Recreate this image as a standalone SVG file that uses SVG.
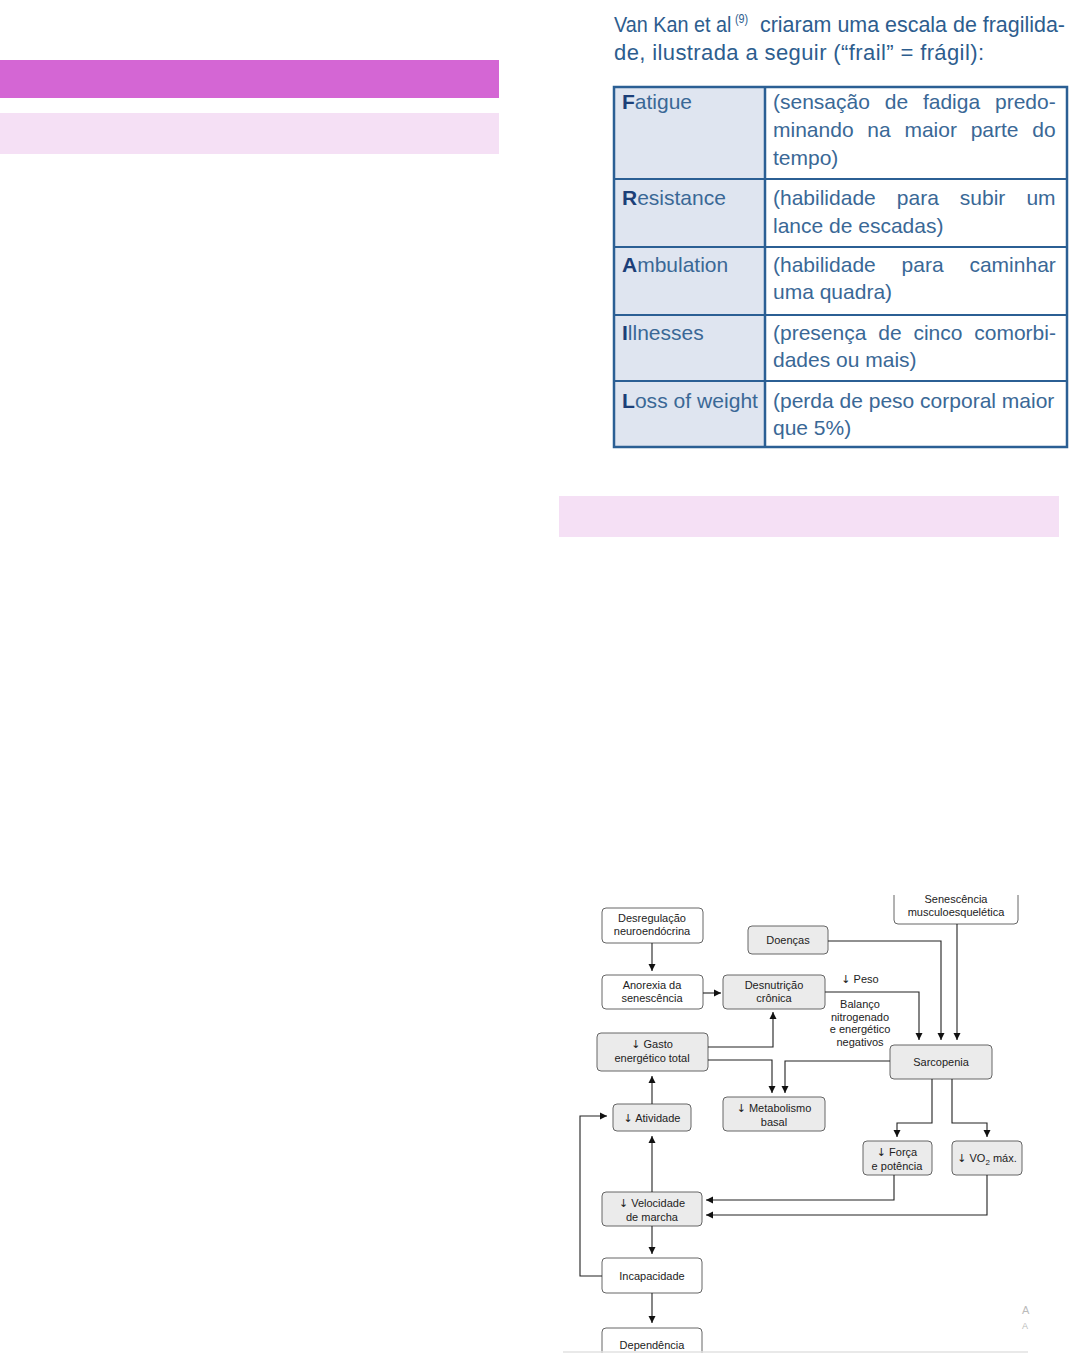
<svg xmlns="http://www.w3.org/2000/svg" width="1079" height="1353" viewBox="0 0 1079 1353">
<defs>
<style>
.hdr{font-family:"Liberation Sans",Arial,sans-serif;font-size:22px;fill:#2d5d8e}
.tl{font-family:"Liberation Sans",Arial,sans-serif;font-size:21px;fill:#3a6896}
.tb{font-weight:bold;fill:#1c3f78}
.tr{font-family:"Liberation Sans",Arial,sans-serif;font-size:21px;fill:#3a6896}
.n rect{stroke:#666;stroke-width:1}
.g rect{fill:#ebebeb}
.w rect{fill:#fff}
.n text,.lbl{font-family:"Liberation Sans",Arial,sans-serif;font-size:11px;fill:#222;text-anchor:middle}
.ar{font-family:"DejaVu Sans",sans-serif;font-size:11px}
.conn path{fill:none;stroke:#222;stroke-width:1.1}
</style>
<marker id="ah" markerWidth="8" markerHeight="8" refX="7" refY="4" orient="auto" markerUnits="userSpaceOnUse">
<path d="M0,0.5 L7,4 L0,7.5 z" fill="#111"/>
</marker>
<clipPath id="fc"><rect x="560" y="895" width="480" height="458"/></clipPath>
</defs>
<rect width="1079" height="1353" fill="#fff"/>

<!-- left bars -->
<rect x="0" y="60" width="499" height="38" fill="#d466d4"/>
<rect x="0" y="113" width="499" height="41" fill="#f5e0f5"/>
<rect x="559" y="496" width="500" height="41" fill="#f5e0f5"/>

<!-- header text -->
<text class="hdr" transform="translate(614,32) scale(0.9,1)" x="0" y="0">Van Kan et al<tspan dx="4" dy="-9" style="font-size:12px">(9)</tspan></text>
<text class="hdr" x="760" y="32" textLength="305" lengthAdjust="spacingAndGlyphs">criaram uma escala de fragilida-</text>
<text class="hdr" x="614" y="60" textLength="370" lengthAdjust="spacing">de, ilustrada a seguir (“frail” = frágil):</text>

<!-- table -->
<g id="table">
<rect x="614" y="87" width="151" height="360" fill="#dfe5f0"/>
<rect x="614" y="87" width="453" height="360" fill="none" stroke="#2b5f94" stroke-width="2.5"/>
<line x1="765" y1="87" x2="765" y2="447" stroke="#2b5f94" stroke-width="2.5"/>
<line x1="614" y1="179" x2="1067" y2="179" stroke="#2b5f94" stroke-width="2"/>
<line x1="614" y1="247" x2="1067" y2="247" stroke="#2b5f94" stroke-width="2"/>
<line x1="614" y1="315" x2="1067" y2="315" stroke="#2b5f94" stroke-width="2"/>
<line x1="614" y1="381" x2="1067" y2="381" stroke="#2b5f94" stroke-width="2"/>

<text class="tl" x="622" y="109"><tspan class="tb">F</tspan>atigue</text>
<text class="tr" x="773" y="109" word-spacing="9">(sensação de fadiga predo-</text>
<text class="tr" x="773" y="137" word-spacing="7.9">minando na maior parte do</text>
<text class="tr" x="773" y="165">tempo)</text>

<text class="tl" x="622" y="205"><tspan class="tb">R</tspan>esistance</text>
<text class="tr" x="773" y="205" word-spacing="15.2">(habilidade para subir um</text>
<text class="tr" x="773" y="233">lance de escadas)</text>

<text class="tl" x="622" y="272"><tspan class="tb">A</tspan>mbulation</text>
<text class="tr" x="773" y="272" word-spacing="20">(habilidade para caminhar</text>
<text class="tr" x="773" y="299">uma quadra)</text>

<text class="tl" x="622" y="340"><tspan class="tb">I</tspan>llnesses</text>
<text class="tr" x="773" y="340" word-spacing="6">(presença de cinco comorbi-</text>
<text class="tr" x="773" y="367">dades ou mais)</text>

<text class="tl" x="622" y="408" textLength="136" lengthAdjust="spacingAndGlyphs"><tspan class="tb">L</tspan>oss of weight</text>
<text class="tr" x="773" y="408">(perda de peso corporal maior</text>
<text class="tr" x="773" y="435">que 5%)</text>
</g>

<!-- flowchart -->
<g clip-path="url(#fc)">
<g id="n-desreg" class="n w"><rect x="602" y="908" width="101" height="35" rx="4"/><text x="652" y="922">Desregulação</text><text x="652" y="935">neuroendócrina</text></g>
<g id="n-doencas" class="n g"><rect x="748" y="926" width="80" height="28" rx="4"/><text x="788" y="944">Doenças</text></g>
<g id="n-senesc" class="n w"><rect x="894" y="880" width="124" height="44" rx="4"/><text x="956" y="903">Senescência</text><text x="956" y="916">musculoesquelética</text></g>
<g id="n-anorexia" class="n w"><rect x="602" y="975" width="101" height="34" rx="4"/><text x="652" y="989">Anorexia da</text><text x="652" y="1002">senescência</text></g>
<g id="n-desnut" class="n g"><rect x="723" y="975" width="102" height="34" rx="4"/><text x="774" y="989">Desnutrição</text><text x="774" y="1002">crônica</text></g>
<g id="n-gasto" class="n g"><rect x="597" y="1033" width="111" height="38" rx="4"/><text x="652" y="1048"><tspan class="ar">↓</tspan> Gasto</text><text x="652" y="1062">energético total</text></g>
<g id="n-sarco" class="n g"><rect x="890" y="1045" width="102" height="34" rx="4"/><text x="941" y="1066">Sarcopenia</text></g>
<g id="n-metab" class="n g"><rect x="723" y="1097" width="102" height="34" rx="4"/><text x="774" y="1112"><tspan class="ar">↓</tspan> Metabolismo</text><text x="774" y="1126">basal</text></g>
<g id="n-ativ" class="n g"><rect x="613" y="1104" width="78" height="27" rx="4"/><text x="652" y="1122"><tspan class="ar">↓</tspan> Atividade</text></g>
<g id="n-forca" class="n g"><rect x="863" y="1141" width="69" height="34" rx="4"/><text x="897" y="1156"><tspan class="ar">↓</tspan> Força</text><text x="897" y="1170">e potência</text></g>
<g id="n-vo2" class="n g"><rect x="952" y="1141" width="70" height="34" rx="4"/><text x="987" y="1162"><tspan class="ar">↓</tspan>  VO<tspan font-size="8" dy="3">2</tspan><tspan dy="-3"> máx.</tspan></text></g>
<g id="n-veloc" class="n g"><rect x="602" y="1192" width="100" height="34" rx="4"/><text x="652" y="1207"><tspan class="ar">↓</tspan> Velocidade</text><text x="652" y="1221">de marcha</text></g>
<g id="n-incap" class="n w"><rect x="602" y="1258" width="100" height="35" rx="4"/><text x="652" y="1280">Incapacidade</text></g>
<g id="n-depend" class="n w"><rect x="602" y="1328" width="100" height="40" rx="4"/><text x="652" y="1349">Dependência</text></g>

<g id="labels">
<text class="lbl" x="860" y="983"><tspan class="ar">↓</tspan> Peso</text>
<text class="lbl" x="860" y="1008">Balanço</text>
<text class="lbl" x="860" y="1021">nitrogenado</text>
<text class="lbl" x="860" y="1033">e energético</text>
<text class="lbl" x="860" y="1046">negativos</text>
</g>

<g id="connectors" class="conn">
<path d="M652,943 V971" marker-end="url(#ah)"/>
<path d="M703,993 H721" marker-end="url(#ah)"/>
<path d="M828,941 H941 V1040" marker-end="url(#ah)"/>
<path d="M957,924 V1040" marker-end="url(#ah)"/>
<path d="M825,992 H919 V1040" marker-end="url(#ah)"/>
<path d="M708,1047 H773 V1012" marker-end="url(#ah)"/>
<path d="M708,1060 H772 V1093" marker-end="url(#ah)"/>
<path d="M890,1061 H785 V1093" marker-end="url(#ah)"/>
<path d="M932,1079 V1123 H897 V1137" marker-end="url(#ah)"/>
<path d="M952,1079 V1123 H987 V1137" marker-end="url(#ah)"/>
<path d="M894,1175 V1200 H706" marker-end="url(#ah)"/>
<path d="M987,1175 V1215 H706" marker-end="url(#ah)"/>
<path d="M652,1104 V1076" marker-end="url(#ah)"/>
<path d="M652,1192 V1136" marker-end="url(#ah)"/>
<path d="M602,1276 H580 V1116 H607" marker-end="url(#ah)"/>
<path d="M652,1226 V1254" marker-end="url(#ah)"/>
<path d="M652,1293 V1323" marker-end="url(#ah)"/>
</g>
</g>

<text x="1022" y="1314" style="font-family:'Liberation Sans',Arial,sans-serif;font-size:11px;fill:#bbb">A</text>
<text x="1022" y="1329" style="font-family:'Liberation Sans',Arial,sans-serif;font-size:9px;fill:#bbb">A</text>
<line x1="563" y1="1352" x2="1028" y2="1352" stroke="#e2e2e2" stroke-width="1.5"/>
</svg>
